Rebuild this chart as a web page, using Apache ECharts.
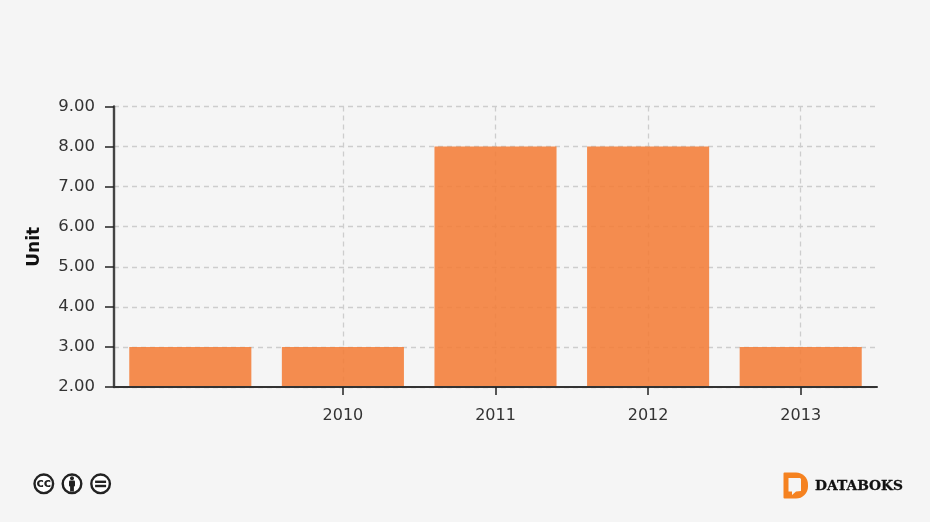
<!DOCTYPE html>
<html><head><meta charset="utf-8">
<script src="https://cdn.jsdelivr.net/npm/echarts@6/dist/echarts.min.js"></script>
<style>html,body{margin:0;padding:0;background:#f5f5f5}#c{width:930px;height:522px}</style></head>
<body><div id="c"></div>
<script>
const categories = ['', '2010', '2011', '2012', '2013'];
const values = [3, 3, 8, 8, 3];
const yTicks = [2, 3, 4, 5, 6, 7, 8, 9];
const axisName = 'Unit';
const brand = 'DATABOKS';

const font = '"DejaVu Sans", Verdana, sans-serif';
const hasLabel = (i, v) => v !== '';
const gridLine = { color: '#cdcdcd', width: 1.3, type: [5, 4] };
const ccIcon = (cx, inner) => ({
  type: 'group', x: cx, y: 483.8,
  children: [{ type: 'circle', shape: { cx: 0, cy: 0, r: 9.3 }, style: { fill: '#fff', stroke: '#222', lineWidth: 2.4 } }].concat(inner)
});
const chart = echarts.init(document.getElementById('c'));
chart.setOption({
  animation: false,
  backgroundColor: '#f5f5f5',
  grid: { left: 114, right: 53, top: 106.5, bottom: 135 },
  xAxis: [{
    type: 'category', data: categories, z: 0,
    axisLine: { show: false }, axisTick: { show: false, alignWithLabel: true }, axisLabel: { show: false },
    splitLine: { show: true, alignWithLabel: true, interval: hasLabel, lineStyle: gridLine }
  }, {
    type: 'category', data: categories, position: 'bottom', z: 5,
    axisLine: { onZero: false, lineStyle: { color: '#333', width: 2 } },
    axisTick: { show: true, alignWithLabel: true, length: 8, interval: hasLabel, lineStyle: { color: '#222', width: 1.5 } },
    axisLabel: { interval: 0, color: '#333', fontFamily: font, fontSize: 16, margin: 21 },
    splitLine: { show: false }
  }],
  yAxis: {
    type: 'value', min: yTicks[0], max: yTicks[yTicks.length - 1], interval: 1, z: 0,
    name: axisName, nameLocation: 'middle', nameGap: 71, nameRotate: 90,
    nameTextStyle: { color: '#111', fontFamily: font, fontSize: 17, fontWeight: 'bold' },
    axisLine: { show: true, lineStyle: { color: '#444', width: 2.4 } },
    axisTick: { show: true, length: 9, lineStyle: { color: '#222', width: 1.5 } },
    axisLabel: { color: '#333', fontFamily: font, fontSize: 16.5, margin: 19, formatter: v => v.toFixed(2) },
    splitLine: { show: true, lineStyle: gridLine }
  },
  series: [{
    type: 'bar', data: values, barWidth: '80%',
    itemStyle: { color: '#f47d38', opacity: 0.88 }, z: 3
  }],
  graphic: [
    ccIcon(43.8, [{ type: 'text', style: { x: 0, y: -0.5, text: 'cc', align: 'center', verticalAlign: 'middle', font: 'bold 12.5px "DejaVu Sans"', fill: '#222' } }]),
    ccIcon(72, [
      { type: 'circle', shape: { cx: 0, cy: -5.6, r: 2 }, style: { fill: '#222' } },
      { type: 'rect', shape: { x: -3, y: -3.4, width: 6, height: 6, r: 1 }, style: { fill: '#222' } },
      { type: 'rect', shape: { x: -1.9, y: 2, width: 3.8, height: 5.8 }, style: { fill: '#222' } }
    ]),
    ccIcon(100.6, [
      { type: 'rect', shape: { x: -5.5, y: -3.2, width: 11, height: 2.4 }, style: { fill: '#222' } },
      { type: 'rect', shape: { x: -5.5, y: 1, width: 11, height: 2.4 }, style: { fill: '#222' } }
    ]),
    { type: 'rect', shape: { x: 783.5, y: 472.5, width: 24.5, height: 26, r: [1, 12, 12, 1] }, style: { fill: '#f58220' } },
    { type: 'polygon', shape: { points: [[788.5, 478], [800, 478], [801, 479], [801, 491], [796, 491.5], [792, 495], [792, 491.5], [788.5, 491.5]] }, style: { fill: '#f5f5f5' } },
    { type: 'text', style: { x: 815, y: 486, text: brand, verticalAlign: 'middle', font: 'bold 13.8px "DejaVu Serif"', fill: '#111', stroke: '#111', lineWidth: 0.3 } }
  ]
});
</script></body></html>
